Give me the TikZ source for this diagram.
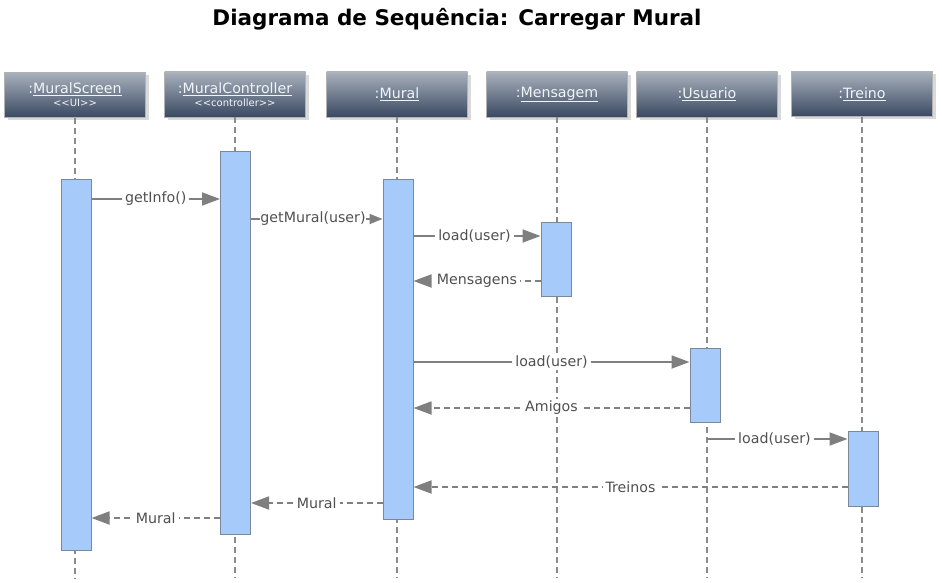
\documentclass[tikz,border=0pt]{standalone}
\usepackage{fontspec}
\setmainfont{DejaVu Sans}
\usetikzlibrary{arrows.meta,shadows}
\definecolor{hdrtop}{HTML}{A8B1BC}
\definecolor{hdrbot}{HTML}{3A4962}
\definecolor{arrowgray}{HTML}{7F7F7F}
\definecolor{lifegray}{HTML}{8A8A8A}
\definecolor{labelgray}{HTML}{505050}
\definecolor{actfill}{HTML}{A6CAFA}
\definecolor{actborder}{HTML}{7A889A}
\definecolor{hdrtext}{HTML}{F0F4F8}
\begin{document}
\begin{tikzpicture}[x=1pt,y=-1pt,
 hdr/.style={draw=gray!60, minimum width=141pt, minimum height=45pt, top color=hdrtop, bottom color=hdrbot, text=hdrtext, font=\fontsize{14.2}{16}\selectfont, align=center, drop shadow={shadow xshift=3pt,shadow yshift=-3pt,opacity=0.3}, inner sep=0pt},
 life/.style={draw=lifegray, line width=2pt, dash pattern=on 6pt off 4pt},
 act/.style={draw=actborder, fill=actfill, line width=1pt, minimum width=30pt, inner sep=0pt},
 line/.style={draw=arrowgray, line width=1.8pt},
 msg/.style={line, -{Triangle[length=18pt,width=13pt]}},
 smallmsg/.style={line, -{Triangle[length=13pt,width=10pt]}},
 ret/.style={msg, dash pattern=on 6pt off 4pt},
 lbl/.style={fill=white, text=labelgray, font=\fontsize{14.2}{16}\selectfont, inner xsep=3pt, inner ysep=2pt}
]
\useasboundingbox (0,0) rectangle (942,583);
\node[font=\fontsize{21.5}{24}\bfseries] (title) at (457,19) {Diagrama de Sequência: Carregar Mural};
% headers
\node[hdr] (h1) at (75,95) {:\underline{MuralScreen}\\[-3pt]{\fontsize{10}{12}\selectfont <\kern0pt<UI>\kern0pt>}};
\node[hdr] (h2) at (235,94.5) {:\underline{MuralController}\\[-3pt]{\fontsize{10}{12}\selectfont <\kern0pt<controller>\kern0pt>}};
\node[hdr] (h3) at (397,94.5) {:\underline{Mural}};
\node[hdr] (h4) at (557,94.5) {:\underline{Mensagem}};
\node[hdr] (h5) at (707,94.5) {:\underline{Usuario}};
\node[hdr] (h6) at (862,94) {:\underline{Treino}};
% lifelines
\foreach \h in {h1,h2,h3,h4,h5,h6}
  \draw[life] (\h.south) -- (\h.south |- 0,578);
% activations
\node[act, minimum height=371pt] (a1) at (76,364.5) {};
\node[act, minimum height=383pt] (a2) at (235.5,342.5) {};
\node[act, minimum height=340pt] (a3) at (398,349) {};
\node[act, minimum height=74pt] (a4) at (556,259) {};
\node[act, minimum height=74pt] (a5) at (705,385) {};
\node[act, minimum height=75pt] (a6) at (863,468.5) {};
% messages
\draw[msg] (a1.east |- 0,199) -- node[lbl] {getInfo()} (a2.west |- 0,199);
\node[lbl, inner xsep=0pt, fill=none] (gm) at (313,219) {getMural(user)};
\draw[line] (a2.east |- gm) -- (gm.west);
\draw[smallmsg] (gm.east) -- (a3.west |- gm);
\draw[msg] (a3.east |- 0,236) -- node[lbl, pos=0.48] {load(user)} (a4.west |- 0,236);
\draw[ret] (a4.west |- 0,281) -- node[lbl] {Mensagens} (a3.east |- 0,281);
\draw[msg] (a3.east |- 0,362) -- node[lbl] {load(user)} (a5.west |- 0,362);
\draw[ret] (a5.west |- 0,408) -- node[lbl] {Amigos} (a3.east |- 0,408);
\draw[msg] (h5.south |- 0,439) -- node[lbl, pos=0.48] {load(user)} (a6.west |- 0,439);
\draw[ret] (a6.west |- 0,487) -- node[lbl] {Treinos} (a3.east |- 0,487);
\draw[ret] (a3.west |- 0,503) -- node[lbl] {Mural} (a2.east |- 0,503);
\draw[ret] (a2.west |- 0,518) -- node[lbl] {Mural} (a1.east |- 0,518);
\end{tikzpicture}
\end{document}
